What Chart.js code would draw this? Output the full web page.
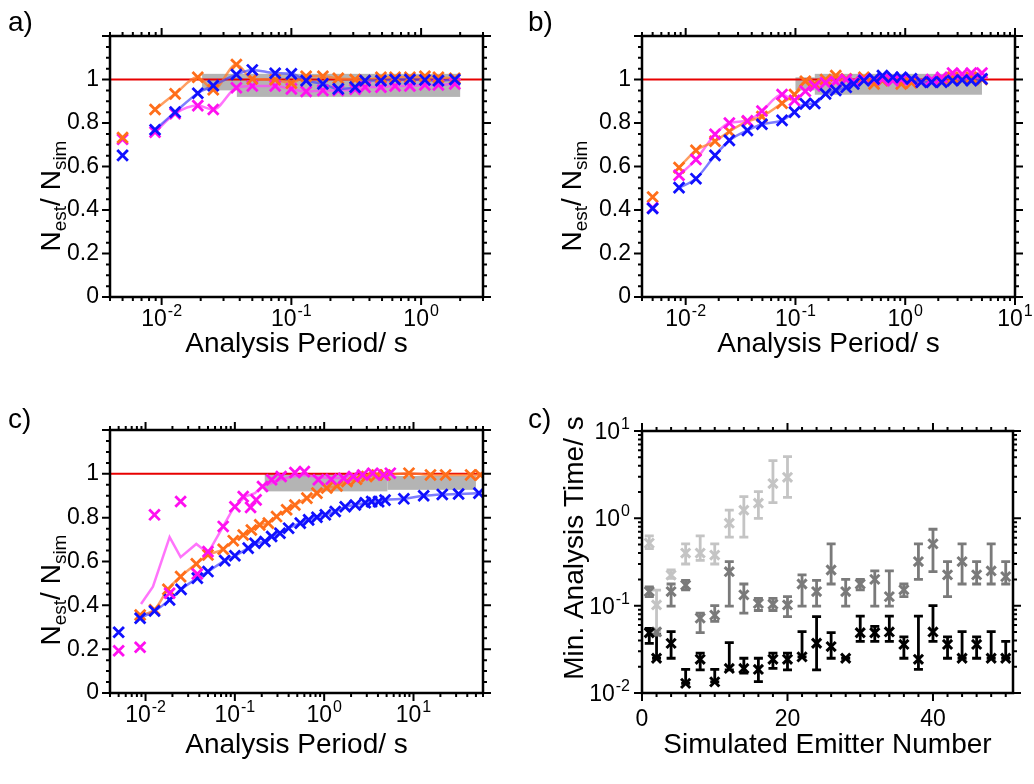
<!DOCTYPE html>
<html>
<head>
<meta charset="utf-8">
<script src="https://cdn.jsdelivr.net/npm/chart.js@4.4.1/dist/chart.umd.min.js"></script>
<style>
  body { margin: 0; background: #fff; }
  #wrap { position: relative; width: 1034px; height: 784px; }
  canvas { position: absolute; left: 0; top: 0; }
</style>
</head>
<body>
<div id="wrap">
  <canvas id="pa" width="1034" height="784"></canvas>
  <canvas id="pb" width="1034" height="784"></canvas>
  <canvas id="pc" width="1034" height="784"></canvas>
  <canvas id="pd" width="1034" height="784"></canvas>
</div>
<script>
// ---- panel a) ----
var aX = [0.005, 0.0089, 0.0127, 0.019, 0.025, 0.0377, 0.05, 0.075, 0.1, 0.13, 0.175, 0.23, 0.31, 0.37, 0.49, 0.63, 0.82, 1.07, 1.36, 1.82];
var aOrange = [0.733, 0.862, 0.934, 1.01, 0.953, 1.069, 1.003, 0.999, 0.983, 1.015, 1.015, 1.005, 1.0, 0.995, 1.01, 1.01, 1.01, 1.015, 1.01, 1.005];
var aBlue = [0.651, 0.769, 0.85, 0.937, 0.972, 1.023, 1.044, 1.029, 1.026, 0.995, 0.98, 0.957, 0.965, 0.995, 0.995, 1.0, 1.0, 0.998, 0.995, 1.0];
var aPink = [0.725, 0.758, 0.843, 0.88, 0.862, 0.962, 0.97, 0.97, 0.957, 0.945, 0.95, 0.95, 0.955, 0.965, 0.965, 0.97, 0.97, 0.975, 0.975, 0.98];
var aBands = [[0.0205, 2, 0.95, 1.026], [0.038, 2, 0.92, 0.96]];

// ---- panel b) ----
var bX = [0.005, 0.0087, 0.0124, 0.0185, 0.025, 0.0365, 0.0495, 0.0755, 0.098, 0.123, 0.15, 0.188, 0.233, 0.29, 0.34, 0.42, 0.52, 0.62, 0.77, 0.92, 1.14, 1.4, 1.74, 2.15, 2.7, 3.3, 4.0, 5.0];
var bBlue = [0.407, 0.503, 0.544, 0.651, 0.72, 0.766, 0.794, 0.812, 0.85, 0.888, 0.89, 0.934, 0.95, 0.964, 0.98, 0.995, 1.003, 1.018, 1.01, 1.01, 1.003, 0.988, 0.988, 0.988, 0.995, 0.998, 0.995, 1.003];
var bOrange = [0.46, 0.595, 0.674, 0.716, 0.761, 0.807, 0.83, 0.891, 0.931, 0.992, 0.98, 1.0, 1.018, 1.003, 0.99, 1.01, 0.98, 0.995, 1.0, 0.98, 0.985, 0.99, 0.995, 1.0, 1.01, 1.0, 1.01, 1.0];
var bPink = [0.41, 0.56, 0.632, 0.748, 0.8, 0.81, 0.855, 0.931, 0.904, 0.946, 0.97, 0.985, 0.99, 1.0, 0.99, 1.0, 1.0, 1.0, 0.995, 1.0, 1.0, 0.99, 1.0, 1.01, 1.03, 1.025, 1.03, 1.03];
var bBands = [[0.1, 0.15, 0.95, 1.01], [0.15, 5.0, 0.93, 1.026]];

// ---- panel c) left ----
var cBlueX = [0.005, 0.0087, 0.0126, 0.0186, 0.025, 0.038, 0.05, 0.077, 0.1, 0.141, 0.168, 0.217, 0.258, 0.32, 0.4, 0.54, 0.67, 0.83, 1.03, 1.33, 1.72, 2.23, 2.88, 3.4, 4.07, 4.8, 7.8, 13, 21, 32, 54];
var cBlue = [0.277, 0.341, 0.374, 0.425, 0.473, 0.524, 0.554, 0.604, 0.626, 0.661, 0.683, 0.691, 0.714, 0.729, 0.752, 0.775, 0.79, 0.802, 0.813, 0.828, 0.85, 0.858, 0.868, 0.873, 0.873, 0.88, 0.886, 0.9, 0.906, 0.908, 0.912];
var cOrangeX = [0.0087, 0.0126, 0.0178, 0.0247, 0.037, 0.05, 0.074, 0.096, 0.124, 0.153, 0.19, 0.237, 0.293, 0.38, 0.47, 0.64, 0.83, 1.07, 1.39, 1.8, 2.3, 3.0, 3.9, 4.8, 8.9, 15.5, 22.9, 43.6, 56];
var cOrange = [0.356, 0.38, 0.473, 0.531, 0.589, 0.63, 0.656, 0.695, 0.721, 0.744, 0.767, 0.775, 0.805, 0.836, 0.858, 0.889, 0.912, 0.935, 0.945, 0.965, 0.976, 0.988, 0.995, 0.995, 1.003, 0.995, 0.995, 0.995, 0.995];
var cPinkX = [0.005, 0.0087, 0.0126, 0.0186, 0.0247, 0.038, 0.05, 0.074, 0.1, 0.124, 0.15, 0.173, 0.204, 0.258, 0.33, 0.47, 0.6, 0.86, 1.2, 1.65, 2.12, 2.7, 3.5, 4.6, 5.5];
var cPink = [0.193, 0.209, 0.813, 0.455, 0.874, 0.543, 0.645, 0.76, 0.85, 0.896, 0.847, 0.881, 0.942, 0.973, 0.988, 1.006, 1.01, 0.973, 0.975, 0.98, 0.988, 0.995, 1.003, 0.995, 1.003];
var cPinkFitX = [0.0089, 0.0121, 0.0186, 0.0247, 0.037, 0.05, 0.074, 0.096, 0.13, 0.168, 0.2, 0.258, 0.33, 0.47, 0.6, 0.86, 1.2, 1.65, 2.12, 2.7, 3.5, 4.6, 5.5];
var cPinkFit = [0.406, 0.485, 0.711, 0.62, 0.68, 0.638, 0.76, 0.843, 0.896, 0.912, 0.942, 0.958, 0.975, 0.99, 0.995, 0.985, 0.98, 0.982, 0.988, 0.992, 0.998, 0.998, 1.0];
var cBands = [[0.216, 5.1, 0.92, 1.0], [5.1, 50, 0.927, 0.99]];

// ---- panel c) right: min. analysis time ----
var dX1 = [1, 2, 4, 6, 8, 10, 12, 14, 16, 18, 20];
var dY1 = [0.52, 0.102, 0.224, 0.40, 0.40, 0.38, 0.88, 1.24, 1.49, 2.5, 2.95];
var dLo1 = [0.45, 0.05, 0.205, 0.30, 0.33, 0.30, 0.61, 0.61, 1.0, 1.51, 1.74];
var dHi1 = [0.63, 0.151, 0.256, 0.51, 0.63, 0.51, 1.24, 1.77, 2.02, 4.57, 5.08];

var dX2 = [1, 2, 4, 6, 8, 10, 12, 14, 16, 18, 20, 22, 24, 26, 28, 30, 32, 34, 36, 38, 40, 42, 44, 46, 48, 50];
var dY2 = [0.145, 0.05, 0.145, 0.172, 0.072, 0.078, 0.245, 0.133, 0.106, 0.104, 0.102, 0.177, 0.145, 0.256, 0.145, 0.177, 0.2, 0.127, 0.152, 0.32, 0.51, 0.225, 0.32, 0.225, 0.25, 0.215];
var dLo2 = [0.127, 0.046, 0.099, 0.152, 0.049, 0.066, 0.099, 0.082, 0.088, 0.088, 0.075, 0.099, 0.099, 0.177, 0.099, 0.152, 0.099, 0.099, 0.127, 0.2, 0.245, 0.127, 0.177, 0.177, 0.177, 0.177];
var dHi2 = [0.164, 0.054, 0.177, 0.195, 0.082, 0.1, 0.32, 0.177, 0.121, 0.121, 0.127, 0.225, 0.195, 0.51, 0.2, 0.2, 0.25, 0.25, 0.177, 0.51, 0.75, 0.32, 0.51, 0.32, 0.51, 0.32];

var dX3 = [1, 2, 4, 6, 8, 10, 12, 14, 16, 18, 20, 22, 24, 26, 28, 30, 32, 34, 36, 38, 40, 42, 44, 46, 48, 50];
var dY3 = [0.049, 0.025, 0.037, 0.0129, 0.0243, 0.0134, 0.0191, 0.0191, 0.0186, 0.0243, 0.0243, 0.0259, 0.0371, 0.034, 0.025, 0.049, 0.049, 0.05, 0.036, 0.0243, 0.05, 0.036, 0.025, 0.036, 0.025, 0.025];
var dLo3 = [0.037, 0.025, 0.025, 0.0129, 0.0184, 0.0134, 0.0184, 0.0169, 0.0135, 0.0191, 0.0184, 0.0259, 0.0184, 0.025, 0.025, 0.039, 0.039, 0.039, 0.025, 0.0186, 0.039, 0.025, 0.025, 0.025, 0.025, 0.025];
var dHi3 = [0.055, 0.048, 0.0504, 0.0186, 0.0286, 0.0186, 0.0377, 0.025, 0.025, 0.0286, 0.0286, 0.0504, 0.075, 0.049, 0.025, 0.076, 0.058, 0.076, 0.044, 0.076, 0.1, 0.044, 0.0504, 0.044, 0.0504, 0.039];

var FONT = '"Liberation Sans", Arial, sans-serif';
var ORANGE = '#ff6e1a', BLUE = '#1010ff', PINK = '#ff10f0';
var ORANGE_L = 'rgba(255,125,45,0.75)', BLUE_L = 'rgba(70,70,255,0.7)', PINK_L = 'rgba(255,70,250,0.75)';

function pts(xs, ys) {
    return xs.map(function(x, i) { return {x: x, y: ys[i]}; });
}
function marks(xs, ys, color, order, r, lw) {
    return {data: pts(xs, ys), showLine: false, pointStyle: 'crossRot', pointRadius: r || 7.5,
        pointBorderWidth: lw || 2.8, borderWidth: lw || 2.8, borderColor: color, backgroundColor: color, order: order};
}
function curve(xs, ys, color, order, straight) {
    return {data: pts(xs, ys), showLine: true, pointRadius: 0, borderColor: color, borderWidth: 2.5,
        tension: straight ? 0 : 0.4, cubicInterpolationMode: straight ? 'default' : 'monotone', order: order};
}
function redLine(x0, x1) {
    return {data: [{x: x0, y: 1}, {x: x1, y: 1}], showLine: true, pointRadius: 0,
        borderColor: '#e80000', borderWidth: 2, order: 50};
}

// per panel decoration (titles, ticks, bands)
var NEST = [['N', 0], ['est', 1], ['/ ', 0], ['N', 0], ['sim', 1]];
var decorCfg = {
    pa: {label: 'a)', lx: 8, ly: 31, xTitle: 'Analysis Period/ s', xtY: 352, yTitle: NEST, ytX: 60, ytY: 196,
         xT: {log: true}, yT: {minor: 0.05, major: 0.2}, bands: aBands},
    pb: {label: 'b)', lx: 528, ly: 31, xTitle: 'Analysis Period/ s', xtY: 352, yTitle: NEST, ytX: 581, ytY: 196,
         xT: {log: true}, yT: {minor: 0.05, major: 0.2}, bands: bBands},
    pc: {label: 'c)', lx: 8, ly: 428, xTitle: 'Analysis Period/ s', xtY: 753, yTitle: NEST, ytX: 60, ytY: 590,
         xT: {log: true}, yT: {minor: 0.05, major: 0.2}, bands: cBands},
    pd: {label: 'c)', lx: 528, ly: 428, xTitle: 'Simulated Emitter Number', xtY: 753,
         yTitle: [['Min. Analysis Time/ s', 0]], ytX: 583, ytY: 548,
         xT: {minor: 2, major: 20}, yT: {log: true}, bands: []}
};

function tickList(scale, t) {
    var out = [], min = scale.min, max = scale.max;
    if (t.log) {
        for (var e = Math.floor(Math.log10(min)); e <= Math.ceil(Math.log10(max)); e++) {
            for (var k = 1; k <= 9; k++) {
                var v = k * Math.pow(10, e);
                if (v >= min * 0.9999 && v <= max * 1.0001) out.push([v, k === 1]);
            }
        }
    } else {
        for (var i = 0; min + i * t.minor <= max + 1e-9; i++) {
            var w = min + i * t.minor, q = w / t.major;
            out.push([w, Math.abs(q - Math.round(q)) < 1e-6]);
        }
    }
    return out;
}

function drawPow(ctx, e, x, y, align) {
    ctx.font = '23px ' + FONT;
    var w1 = ctx.measureText('10').width;
    ctx.font = '16px ' + FONT;
    var w2 = ctx.measureText(String(e)).width;
    var sx = align === 'center' ? x - (w1 + w2 + 1) / 2 : x - (w1 + w2 + 1);
    ctx.textAlign = 'left';
    ctx.textBaseline = 'alphabetic';
    ctx.font = '23px ' + FONT;
    ctx.fillText('10', sx, y);
    ctx.font = '16px ' + FONT;
    ctx.fillText(String(e), sx + w1 + 1, y - 10);
}

function drawRich(ctx, parts, x, y) {
    ctx.save();
    ctx.translate(x, y);
    ctx.rotate(-Math.PI / 2);
    ctx.textAlign = 'left';
    ctx.textBaseline = 'alphabetic';
    var w = 0;
    parts.forEach(function(p) {
        ctx.font = (p[1] ? 19 : 28) + 'px ' + FONT;
        w += ctx.measureText(p[0]).width;
    });
    var cx = -w / 2;
    parts.forEach(function(p) {
        ctx.font = (p[1] ? 19 : 28) + 'px ' + FONT;
        ctx.fillText(p[0], cx, p[1] ? 6 : 0);
        cx += ctx.measureText(p[0]).width;
    });
    ctx.restore();
}

var decor = {
    id: 'decor',
    beforeDatasetsDraw: function(chart) {
        var o = decorCfg[chart.canvas.id], ctx = chart.ctx;
        var sx = chart.scales.x, sy = chart.scales.y;
        ctx.save();
        ctx.fillStyle = '#b4b4b4';
        o.bands.forEach(function(b) {
            var x0 = sx.getPixelForValue(b[0]), x1 = sx.getPixelForValue(b[1]);
            var y0 = sy.getPixelForValue(b[2]), y1 = sy.getPixelForValue(b[3]);
            ctx.fillRect(x0, y1, x1 - x0, y0 - y1);
        });
        // error bars
        chart.data.datasets.forEach(function(ds) {
            if (!ds.errLo) return;
            ctx.strokeStyle = ds.borderColor;
            ctx.lineWidth = 2.8;
            ds.data.forEach(function(p, j) {
                var px = sx.getPixelForValue(p.x);
                var lo = sy.getPixelForValue(ds.errLo[j]), hi = sy.getPixelForValue(ds.errHi[j]);
                ctx.beginPath();
                ctx.moveTo(px, lo); ctx.lineTo(px, hi);
                ctx.moveTo(px - 4.5, lo); ctx.lineTo(px + 4.5, lo);
                ctx.moveTo(px - 4.5, hi); ctx.lineTo(px + 4.5, hi);
                ctx.stroke();
            });
        });
        ctx.restore();
    },
    afterDraw: function(chart) {
        var o = decorCfg[chart.canvas.id], ctx = chart.ctx, a = chart.chartArea;
        var sx = chart.scales.x, sy = chart.scales.y;
        ctx.save();
        ctx.strokeStyle = '#000';
        ctx.fillStyle = '#000';
        ctx.lineWidth = 2;
        tickList(sx, o.xT).forEach(function(t) {
            var p = sx.getPixelForValue(t[0]), l = t[1] ? 8 : 4;
            ctx.beginPath();
            ctx.moveTo(p, a.bottom); ctx.lineTo(p, a.bottom + l);
            ctx.moveTo(p, a.top); ctx.lineTo(p, a.top - l);
            ctx.stroke();
        });
        tickList(sy, o.yT).forEach(function(t) {
            var p = sy.getPixelForValue(t[0]), l = t[1] ? 8 : 4;
            ctx.beginPath();
            ctx.moveTo(a.left, p); ctx.lineTo(a.left - l, p);
            ctx.moveTo(a.right, p); ctx.lineTo(a.right + l, p);
            ctx.stroke();
        });
        ctx.lineWidth = 2.5;
        ctx.strokeRect(a.left, a.top, a.right - a.left, a.bottom - a.top);

        if (o.xT.log) {
            tickList(sx, o.xT).forEach(function(t) {
                if (t[1]) drawPow(ctx, Math.round(Math.log10(t[0])), sx.getPixelForValue(t[0]), a.bottom + 29, 'center');
            });
        }
        if (o.yT.log) {
            tickList(sy, o.yT).forEach(function(t) {
                if (t[1]) drawPow(ctx, Math.round(Math.log10(t[0])), a.left - 12, sy.getPixelForValue(t[0]) + 8, 'right');
            });
        }
        ctx.font = '28px ' + FONT;
        ctx.textAlign = 'center';
        ctx.textBaseline = 'alphabetic';
        ctx.fillText(o.xTitle, (a.left + a.right) / 2, o.xtY);
        drawRich(ctx, o.yTitle, o.ytX, o.ytY);
        ctx.textAlign = 'left';
        ctx.font = '28px ' + FONT;
        ctx.fillText(o.label, o.lx, o.ly);
        ctx.restore();
    }
};
Chart.register(decor);

var noGrid = {display: false, drawTicks: false};
function logAxis(min, max) {
    return {type: 'logarithmic', min: min, max: max, grid: noGrid, border: {display: false},
        ticks: {display: false}, afterFit: function(s) { if (s.isHorizontal()) s.height = 0; else s.width = 0; }};
}
// y axis of the ratio panels: 100 px wide box left of the plot holds the labels
function ratioAxis() {
    return {type: 'linear', min: 0, max: 1.2, grid: noGrid, border: {display: false},
        ticks: {stepSize: 0.2, padding: 11, color: '#000', font: {size: 23, family: FONT},
            callback: function(v) { return v > 1.1 ? '' : String(Math.round(v * 10) / 10); }},
        afterFit: function(s) { s.width = 100; }};
}
function makeChart(id, pad, datasets, scales) {
    return new Chart(document.getElementById(id), {
        type: 'scatter',
        data: {datasets: datasets},
        options: {
            responsive: false, animation: false, devicePixelRatio: 1, events: [],
            layout: {padding: pad},
            plugins: {legend: {display: false}, tooltip: {enabled: false}},
            scales: scales
        }
    });
}

window.onload = function() {
    makeChart('pa', {left: 10, top: 36, right: 1034 - 483, bottom: 784 - 297}, [
        marks(aX, aBlue, BLUE, 1),
        marks(aX, aOrange, ORANGE, 2),
        marks(aX, aPink, PINK, 3),
        curve(aX.slice(1), aBlue.slice(1), BLUE_L, 10),
        curve(aX.slice(1), aOrange.slice(1), ORANGE_L, 11),
        curve(aX.slice(1), aPink.slice(1), PINK_L, 12),
        redLine(0.004, 3)
    ], {x: logAxis(0.004, 3), y: ratioAxis()});

    makeChart('pb', {left: 542, top: 36, right: 1034 - 1015, bottom: 784 - 297}, [
        marks(bX, bBlue, BLUE, 1),
        marks(bX, bPink, PINK, 2),
        marks(bX, bOrange, ORANGE, 3),
        curve(bX.slice(1), bBlue.slice(1), BLUE_L, 10),
        curve(bX.slice(1), bOrange.slice(1), ORANGE_L, 11),
        curve(bX.slice(1), bPink.slice(1), PINK_L, 12),
        redLine(0.004, 10)
    ], {x: logAxis(0.004, 10), y: ratioAxis()});

    makeChart('pc', {left: 10, top: 430, right: 1034 - 483, bottom: 784 - 693}, [
        marks(cPinkX, cPink, PINK, 1),
        marks(cBlueX, cBlue, BLUE, 2),
        marks(cOrangeX, cOrange, ORANGE, 3),
        curve(cBlueX.slice(1), cBlue.slice(1), BLUE_L, 10),
        curve(cOrangeX, cOrange, ORANGE_L, 11),
        curve(cPinkFitX, cPinkFit, PINK_L, 12, true),
        redLine(0.004, 60)
    ], {x: logAxis(0.004, 60), y: ratioAxis()});

    var d1 = marks(dX1, dY1, '#c4c4c4', 3, 6.5, 3); d1.errLo = dLo1; d1.errHi = dHi1;
    var d2 = marks(dX2, dY2, '#7a7a7a', 2, 6.5, 3); d2.errLo = dLo2; d2.errHi = dHi2;
    var d3 = marks(dX3, dY3, '#000000', 1, 6.5, 3); d3.errLo = dLo3; d3.errHi = dHi3;
    makeChart('pd', {left: 642, top: 431, right: 1034 - 1013, bottom: 34}, [d3, d2, d1], {
        x: {type: 'linear', min: 0, max: 51, grid: noGrid, border: {display: false},
            ticks: {stepSize: 20, padding: 13, color: '#000', font: {size: 23, family: FONT},
                callback: function(v) { return v % 20 === 0 ? String(v) : ''; }},
            afterFit: function(s) { s.height = 57; }},
        y: logAxis(0.01, 10)
    });
};
</script>
</body>
</html>
